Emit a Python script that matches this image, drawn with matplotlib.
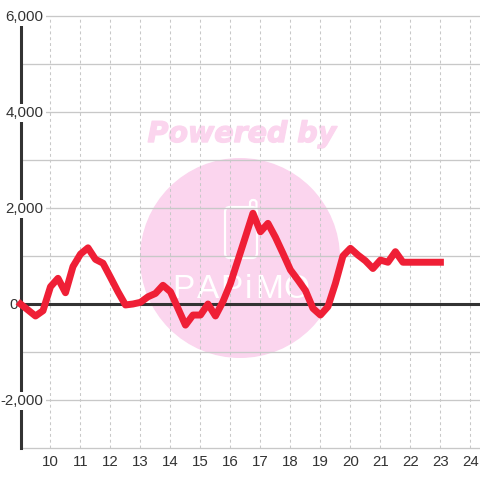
import matplotlib
matplotlib.use("Agg")
import matplotlib.pyplot as plt
import matplotlib.patheffects as pe
import numpy as np
from matplotlib.patches import Circle, FancyBboxPatch

# quarter-hour readings from 9:00 to 23:00
hours = np.arange(9, 23.01, 0.25)
values = [
    0, -125, -250, -140, 360, 535, 235, 780, 1040, 1170,
    930, 850, 555, 255, -20, 0, 35, 150, 220, 390,
    255, -90, -440, -230, -230, 0, -250, 50, 430, 915,
    1400, 1890, 1505, 1680, 1390, 1055, 710, 500, 280, -90,
    -230, -55, 430, 1000, 1160, 1020, 900, 740, 915, 870,
    1090, 870, 870, 870, 870, 870, 870,
]
x_ticks = list(range(10, 25))
y_labeled = [-2000, 0, 2000, 4000, 6000]
y_grid = list(range(-3000, 7000, 1000))
logo_letters = ["P", "A", "P", "i", "M", "O"]

fig = plt.figure(figsize=(4.8, 4.8), dpi=100)
ax = fig.add_axes([20.5 / 480, 32 / 480, 459.5 / 480, 432 / 480])
ax.set_xlim(9, 24.32)
ax.set_ylim(-3000, 6000)
for s in ax.spines.values():
    s.set_visible(False)
ax.tick_params(length=0)

# grid
ax.set_xticks(x_ticks)
ax.set_yticks(y_grid)
ax.set_yticklabels([])
ax.grid(axis="x", color="#c8c8c8", lw=0.75, ls=(0, (2.8, 2.8)), zorder=1)
ax.grid(axis="y", color="#c8c8c8", lw=0.95, zorder=1, clip_on=False)
ax.tick_params(axis="x", labelsize=10.8, labelcolor="#333333", pad=5)
for lab in ax.get_xticklabels():
    lab.set_fontfamily("Liberation Sans")

# watermark, pixel coordinates
wm = fig.add_axes([0, 0, 1, 1], zorder=0)
wm.set_xlim(0, 480)
wm.set_ylim(480, 0)
wm.axis("off")
wm.add_patch(Circle((240, 258), 100, fc="#fbd5ee", ec="none"))
wm.add_patch(FancyBboxPatch((250, 200), 6.5, 10, boxstyle="round,pad=0,rounding_size=3",
                            fc="none", ec="white", lw=1.6))
wm.add_patch(FancyBboxPatch((225, 207), 32, 51, boxstyle="round,pad=0,rounding_size=5",
                            fc="#fbd5ee", ec="white", lw=1.6))
wm.text(242, 134, "Powered by", ha="center", va="center", fontsize=20.5, weight="bold",
        style="italic", color="#fbd5ee", family="DejaVu Sans",
        path_effects=[pe.withStroke(linewidth=1, foreground="#fbd5ee")])
for letter, px in zip(logo_letters, [183, 208, 231, 248, 269, 296]):
    wm.text(px, 289, letter, ha="center", va="center", fontsize=24, color="white",
            family="Liberation Sans")
ax.set_zorder(1)
ax.patch.set_visible(False)

ax.axvline(9, color="#333333", lw=2.2, zorder=2, clip_on=False)
ax.axhline(0, color="#333333", lw=2.2, zorder=2)

for v in y_labeled:
    if v == 0:
        offset = -3
        box = None
    else:
        offset = 23
        box = dict(fc="white", ec="none", pad=1.5)
    ax.annotate(f"{v:,}", (9, v), xytext=(offset, -1), textcoords="offset pixels",
                ha="right", va="center", fontsize=10.8, color="#333333",
                family="Liberation Sans", zorder=5, annotation_clip=False, bbox=box)

ax.plot(hours, values, color="#ef1f36", lw=5, zorder=6, solid_capstyle="projecting",
        solid_joinstyle="round", clip_on=False)

fig.savefig("out.png", dpi=100)
